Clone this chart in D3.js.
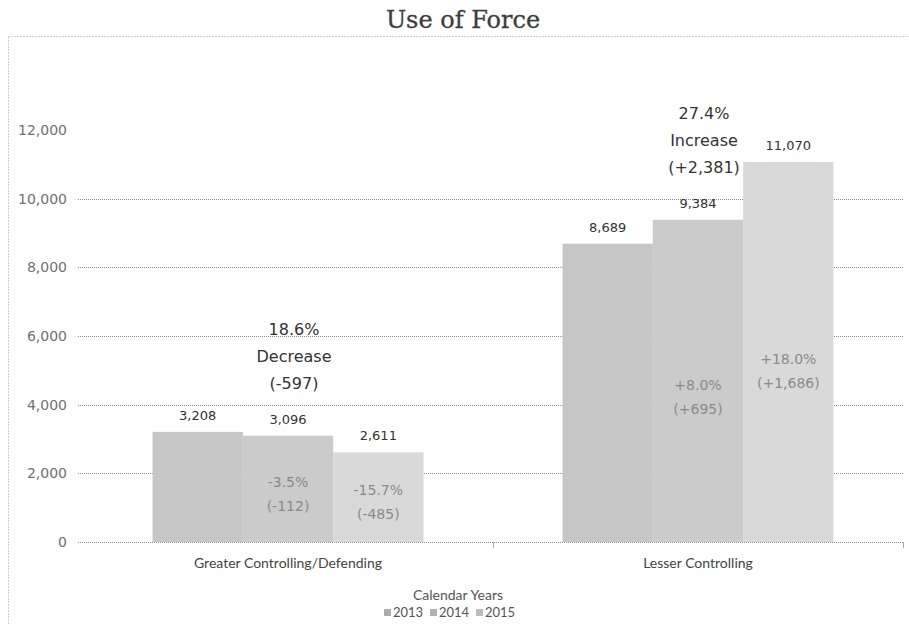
<!DOCTYPE html>
<html>
<head>
<meta charset="utf-8">
<script src="https://cdn.jsdelivr.net/npm/d3@7"></script>
<style>
  body { margin: 0; background: #fff; }
  svg { display: block; }
</style>
</head>
<body>
<div id="chart"></div>
<script>
// ---- data ----
var categories = ["Greater Controlling/Defending", "Lesser Controlling"];
var years = ["2013", "2014", "2015"];
var values2013 = [3208, 8689];
var values2014 = [3096, 9384];
var values2015 = [2611, 11070];
// change labels written inside the bars (vs. previous year)
var change2014 = [["-3.5%", "(-112)"], ["+8.0%", "(+695)"]];
var change2015 = [["-15.7%", "(-485)"], ["+18.0%", "(+1,686)"]];
// overall 2013 -> 2015 notes
var totalNotes = [["18.6%", "Decrease", "(-597)"], ["27.4%", "Increase", "(+2,381)"]];
var yTicks = [0, 2000, 4000, 6000, 8000, 10000, 12000];

function init() {
    var w = 909, h = 625;
    var plot = {left: 83, right: 903, top: 130, bottom: 542};

    var svg = d3.select("#chart").append("svg")
        .attr("width", w)
        .attr("height", h);

    // chart frame (dotted)
    svg.append("rect")
        .attr("x", 8.5).attr("y", 36.5)
        .attr("width", 920).attr("height", 620)
        .attr("fill", "none")
        .attr("stroke", "#a0a0a0")
        .attr("stroke-dasharray", "1,2");

    svg.append("text")
        .attr("x", 463).attr("y", 28)
        .attr("text-anchor", "middle")
        .style("font-family", "'DejaVu Serif', serif")
        .style("font-size", "24px")
        .style("fill", "#3c3c3c")
        .style("stroke", "#3c3c3c")
        .style("stroke-width", "0.3px")
        .text("Use of Force");

    var yScale = d3.scaleLinear()
        .domain([0, 12000])
        .range([plot.bottom, plot.top]);

    var xScale = d3.scaleBand()
        .domain(categories)
        .range([plot.left, plot.right]);

    var xInner = d3.scaleBand()
        .domain(years)
        .range([0, xScale.bandwidth()])
        .paddingOuter(0.77); // gap width

    var colors = {"2013": "#c6c6c6", "2014": "#cbcbcb", "2015": "#d9d9d9"};

    // gridlines (no line at the top tick)
    svg.append("g").selectAll("line")
        .data(yTicks.filter(function(d) { return d < 12000; }))
        .enter().append("line")
        .attr("x1", 78).attr("x2", plot.right)
        .attr("y1", function(d) { return Math.round(yScale(d)) + 0.5; })
        .attr("y2", function(d) { return Math.round(yScale(d)) + 0.5; })
        .attr("stroke", "#8c8c8c")
        .attr("stroke-dasharray", "1,1");

    // y axis labels
    var yAxis = d3.axisLeft(yScale)
        .tickValues(yTicks)
        .tickSize(0)
        .tickPadding(0)
        .tickFormat(d3.format(","));
    var gy = svg.append("g")
        .attr("transform", "translate(67,0)")
        .call(yAxis);
    gy.select(".domain").remove();
    gy.selectAll("text")
        .style("font-family", "'DejaVu Sans', sans-serif")
        .style("font-size", "14px")
        .style("fill", "#707070");

    // bars
    var series = [values2013, values2014, values2015];
    var rows = [];
    categories.forEach(function(c, i) {
        years.forEach(function(y, j) {
            rows.push({cat: c, year: y, value: series[j][i], i: i, j: j});
        });
    });

    svg.append("g").selectAll("rect")
        .data(rows)
        .enter().append("rect")
        .attr("x", function(d) { return xScale(d.cat) + xInner(d.year); })
        .attr("y", function(d) { return yScale(d.value); })
        .attr("width", xInner.bandwidth())
        .attr("height", function(d) { return plot.bottom - yScale(d.value); })
        .attr("fill", function(d) { return colors[d.year]; });

    // value labels above bars
    svg.append("g").selectAll("text")
        .data(rows)
        .enter().append("text")
        .attr("x", function(d) { return xScale(d.cat) + xInner(d.year) + xInner.bandwidth() / 2; })
        .attr("y", function(d) { return yScale(d.value) - 12; })
        .attr("text-anchor", "middle")
        .style("font-family", "'DejaVu Sans', sans-serif")
        .style("font-size", "13px")
        .style("fill", "#333")
        .text(function(d) { return d3.format(",")(d.value); });

    // change labels inside the 2014 / 2015 bars
    var changes = [];
    categories.forEach(function(c, i) {
        changes.push({cat: c, year: "2014", value: values2014[i], lines: change2014[i]});
        changes.push({cat: c, year: "2015", value: values2015[i], lines: change2015[i]});
    });
    changes.forEach(function(d) {
        var cx = xScale(d.cat) + xInner(d.year) + xInner.bandwidth() / 2;
        var cy = yScale(d.value * 0.45);
        d.lines.forEach(function(t, k) {
            svg.append("text")
                .attr("x", cx)
                .attr("y", cy - 7 + k * 24)
                .attr("text-anchor", "middle")
                .style("font-family", "'DejaVu Sans', sans-serif")
                .style("font-size", "14px")
                .style("fill", "#8a8a8a")
                .text(t);
        });
    });

    // overall change notes above each group
    categories.forEach(function(c, i) {
        var cx = xScale(c) + xScale.bandwidth() / 2 + 6;
        var base = yScale(values2014[i]) - 47;
        totalNotes[i].forEach(function(t, k) {
            svg.append("text")
                .attr("x", cx)
                .attr("y", base - (2 - k) * 27)
                .attr("text-anchor", "middle")
                .style("font-family", "'DejaVu Sans', sans-serif")
                .style("font-size", "16px")
                .style("fill", "#333")
                .text(t);
        });
    });

    // x axis
    var xAxis = d3.axisBottom(xScale).tickSize(0).tickPadding(16);
    var gx = svg.append("g")
        .attr("transform", "translate(0," + plot.bottom + ")")
        .call(xAxis);
    gx.select(".domain").remove();
    gx.selectAll("text")
        .style("font-family", "Lato, sans-serif")
        .style("font-size", "14px")
        .style("fill", "#444");
    // category boundary tick marks
    svg.append("g").selectAll("line")
        .data([xScale.range()[0] + xScale.bandwidth(), plot.right])
        .enter().append("line")
        .attr("x1", function(d) { return d + 0.5; })
        .attr("x2", function(d) { return d + 0.5; })
        .attr("y1", plot.bottom)
        .attr("y2", plot.bottom + 6)
        .attr("stroke", "#aaa");

    // axis title and legend
    svg.append("text")
        .attr("x", 458).attr("y", 600)
        .attr("text-anchor", "middle")
        .style("font-family", "Lato, sans-serif")
        .style("font-size", "14px")
        .style("fill", "#555")
        .text("Calendar Years");

    var legend = svg.append("g").attr("transform", "translate(384,0)");
    var item = legend.selectAll("g")
        .data(years)
        .enter().append("g")
        .attr("transform", function(d, i) { return "translate(" + (i * 46) + ",0)"; });
    item.append("rect")
        .attr("x", 0).attr("y", 609)
        .attr("width", 7).attr("height", 7)
        .attr("fill", function(d) { return d3.color(colors[d]).darker(0.4); });
    item.append("text")
        .attr("x", 9).attr("y", 617)
        .style("font-family", "Lato, sans-serif")
        .style("font-size", "13px")
        .style("fill", "#555")
        .text(function(d) { return d; });
}

window.onload = init;
</script>
</body>
</html>
